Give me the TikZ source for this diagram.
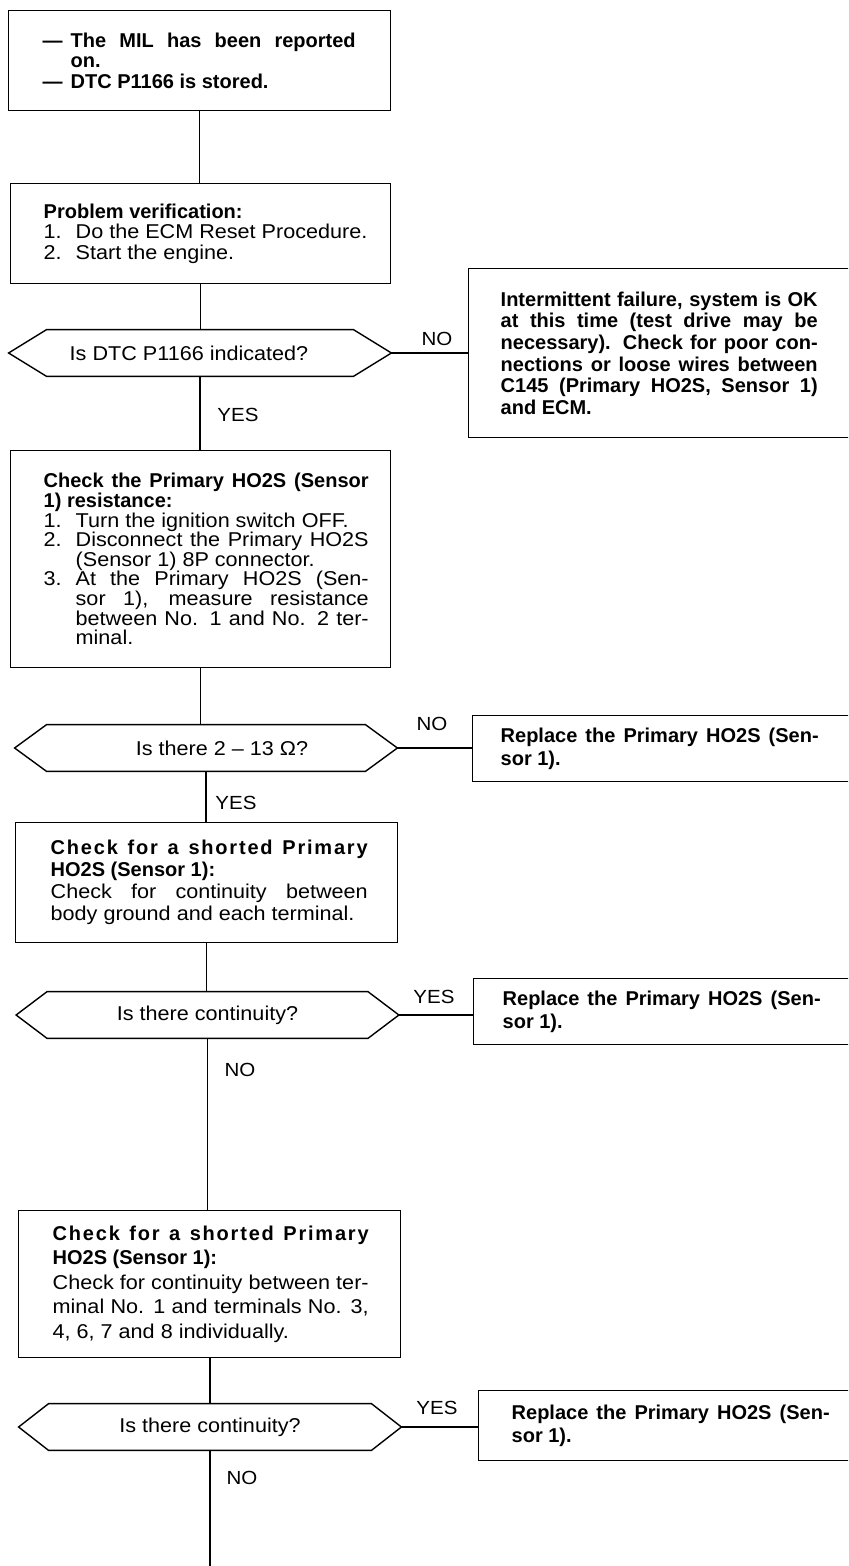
\documentclass[tikz,border=0pt]{standalone}
\usepackage{fontspec}
\setmainfont{Liberation Sans}
\newfontfamily\RGfam{Liberation Sans}[FakeStretch=1.08]
\newcommand\rgf{\RGfam\mdseries}
\newcommand\lsp{\addfontfeature{LetterSpace=9}}
\newcommand\jline[1]{\makebox[\linewidth][s]{#1}}
\newcommand\jind[1]{\makebox[\dimexpr\linewidth-16pt\relax][s]{#1}}
\newcommand\numb[1]{\makebox[16pt][l]{#1}}
\newcommand\indt{\hspace*{16pt}}
\newcommand\btext[4]{\makebox[#1][l]{\hspace*{#2}\parbox{#3}{#4}}}
\usetikzlibrary{calc}
\tikzset{
  conn/.style={line width=0.65pt},
  thickconn/.style={line width=1.1pt},
  box/.style={draw, line width=0.7pt, inner sep=0pt, anchor=north west},
  hexnode/.style={inner sep=0pt, minimum width=191pt, minimum height=23pt},
  lbl/.style={inner sep=0pt, font=\rgf\fontsize{9.5}{11}\selectfont},
}
\newcommand\hexdraw[2]{%
  \draw[line width=0.7pt] (#1.west) -- ($(#1.north west)+(#2,0)$) -- ($(#1.north east)+(-#2,0)$)
    -- (#1.east) -- ($(#1.south east)+(-#2,0)$) -- ($(#1.south west)+(#2,0)$) -- cycle;}
\begin{document}
\begin{tikzpicture}[x=0.5pt,y=-0.5pt]
\useasboundingbox (0,0) rectangle (848,1566);
\fill[white] (0,0) rectangle (848,1566);
\clip (0,0) rectangle (848,1566);

% ---- left column boxes
\node[box, minimum height=50pt] (b1) at (8,10) {\btext{191pt}{17pt}{156.5pt}{\bfseries\fontsize{10}{10.25}\selectfont
\makebox[14pt][l]{—}\makebox[142.5pt][s]{The MIL has been reported}\\
\hspace*{14pt}on.\\
\makebox[14pt][l]{—}DTC P1166 is stored.}};

\node[box, minimum height=50pt] (b2) at (10,183) {\btext{190pt}{16.5pt}{165pt}{\fontsize{10}{10.25}\selectfont
\textbf{Problem verification:}\\
\rgf\numb{1.}Do the ECM Reset Procedure.\\
\numb{2.}Start the engine.}};

\node[hexnode] (d1) at (200,353) {\rgf\fontsize{10}{12}\selectfont Is DTC P1166 indicated?\hspace*{11pt}};
\hexdraw{d1}{38}

\node[box, minimum height=108.5pt] (b3) at (10,450) {\btext{190pt}{16.5pt}{162.5pt}{\fontsize{10}{9.8}\selectfont\bfseries
\jline{Check the Primary HO2S (Sensor}\\
1) resistance:\\
\rgf\numb{1.}Turn the ignition switch OFF.\\
\numb{2.}\jind{Disconnect the Primary HO2S}\\
\indt(Sensor 1) 8P connector.\\
\numb{3.}\jind{At the Primary HO2S (Sen-}\\
\indt\jind{sor 1), measure resistance}\\
\indt\jind{between No. 1 and No. 2 ter-}\\
\indt minal.}};

\node[hexnode] (d2) at (206,748) {\rgf\fontsize{10}{12}\selectfont\hspace*{16pt}Is there 2 – 13 Ω?};
\hexdraw{d2}{32}

\node[box, minimum height=60pt] (b4) at (15,822) {\btext{191pt}{17.5pt}{158.5pt}{\fontsize{10}{11}\selectfont\bfseries
{\lsp\jline{Check for a shorted Primary}}\\
HO2S (Sensor 1):\\
\rgf\jline{Check for continuity between}\\
body ground and each terminal.}};

\node[hexnode] (d3) at (207.5,1015) {\rgf\fontsize{10}{12}\selectfont Is there continuity?};
\hexdraw{d3}{31}

\node[box, minimum height=73.5pt] (b5) at (18,1210) {\btext{191pt}{17pt}{158pt}{\fontsize{10}{12.25}\selectfont\bfseries
{\lsp\jline{Check for a shorted Primary}}\\
HO2S (Sensor 1):\\
\rgf\jline{Check for continuity between ter-}\\
\jline{minal No. 1 and terminals No. 3,}\\
4, 6, 7 and 8 individually.}};

\node[hexnode] (d4) at (210,1427) {\rgf\fontsize{10}{12}\selectfont Is there continuity?};
\hexdraw{d4}{30}

\coordinate (endpt) at (210,1566);

% ---- right column boxes
\node[box, minimum height=84.5pt] (r1) at (468,268) {\btext{200pt}{16pt}{158.5pt}{\bfseries\fontsize{10}{10.8}\selectfont
\jline{Intermittent failure, system is OK}\\
\jline{at this time (test drive may be}\\
\jline{necessary). Check for poor con-}\\
\jline{nections or loose wires between}\\
\jline{C145 (Primary HO2S, Sensor 1)}\\
and ECM.}};

\node[box, minimum height=33pt] (r2) at (472,715) {\btext{200pt}{14pt}{159pt}{\bfseries\fontsize{10}{11.25}\selectfont
\jline{Replace the Primary HO2S (Sen-}\\
sor 1).}};

\node[box, minimum height=33pt] (r3) at (473,978) {\btext{200pt}{14.5pt}{159pt}{\bfseries\fontsize{10}{11.25}\selectfont
\jline{Replace the Primary HO2S (Sen-}\\
sor 1).}};

\node[box, minimum height=35pt] (r4) at (478,1390) {\btext{200pt}{16.5pt}{159pt}{\bfseries\fontsize{10}{11.25}\selectfont
\jline{Replace the Primary HO2S (Sen-}\\
sor 1).}};

% ---- connectors
\draw[conn] (b1.south) -- (b1.south |- b2.north);
\draw[conn] (b2.south) -- (b2.south |- d1.north);
\draw[conn] (d1.south) -- (d1.south |- b3.north);
\draw[conn] (b3.south) -- (b3.south |- d2.north);
\draw[conn] (d2.south) -- (d2.south |- b4.north);
\draw[conn] (b4.south) -- (b4.south |- d3.north);
\draw[conn] (d3.south) -- (d3.south |- b5.north);
\draw[thickconn] (b5.south) -- (b5.south |- d4.north);
\draw[thickconn] (d4.south) -- (endpt);

\draw[conn] (d1.east) -- (d1.east -| r1.west);
\draw[conn] (d2.east) -- (d2.east -| r2.west);
\draw[conn] (d3.east) -- (d3.east -| r3.west);
\draw[conn] (d4.east) -- (d4.east -| r4.west);

% ---- branch labels
\node[lbl] (no1) at (437,339) {NO};
\node[lbl] (yes1) at (238,415) {YES};
\node[lbl] (no2) at (432,724) {NO};
\node[lbl] (yes2) at (236,803) {YES};
\node[lbl] (yes3) at (434,997) {YES};
\node[lbl] (no3) at (240,1070) {NO};
\node[lbl] (yes4) at (437,1408) {YES};
\node[lbl] (no4) at (242,1478) {NO};
\end{tikzpicture}
\end{document}
